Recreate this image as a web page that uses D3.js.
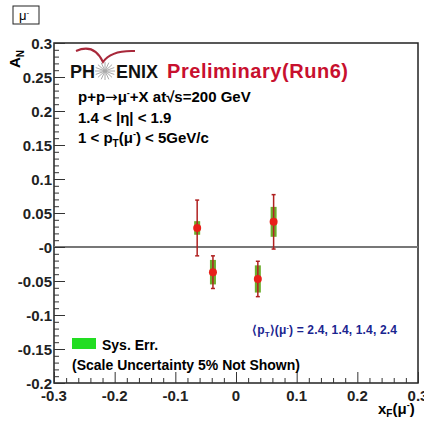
<!DOCTYPE html>
<html>
<head>
<meta charset="utf-8">
<script src="https://cdn.jsdelivr.net/npm/d3@7"></script>
<style>
  body { margin: 0; background: #fff; }
  text { font-family: 'Liberation Sans', Arial, sans-serif; font-weight: bold; }
</style>
</head>
<body>
<svg width="424" height="427"></svg>
<script>
const width = 424, height = 427;

// data
const xF      = [-0.064, -0.038, 0.036, 0.062];
const AN      = [0.028, -0.037, -0.047, 0.037];
const statErr = [0.041, 0.024, 0.026, 0.040];
const sysErr  = [0.010, 0.018, 0.020, 0.022];
const meanPt  = [2.4, 1.4, 1.4, 2.4];

const yTicks = [0.3, 0.25, 0.2, 0.15, 0.1, 0.05, 0, -0.05, -0.1, -0.15, -0.2];
const yTickLabels = ['0.3', '0.25', '0.2', '0.15', '0.1', '0.05', '-0', '-0.05', '-0.1', '-0.15', '-0.2'];
const xTicks = [-0.3, -0.2, -0.1, 0, 0.1, 0.2, 0.3];
const xTickLabels = ['-0.3', '-0.2', '-0.1', '0', '0.1', '0.2', '0.3'];

const svg = d3.select('svg');

const x = d3.scaleLinear().domain([-0.3, 0.3]).range([54, 418]);
const y = d3.scaleLinear().domain([-0.2, 0.3]).range([383, 43]);

// frame
svg.append('rect')
    .attr('x', x(-0.3)).attr('y', y(0.3))
    .attr('width', x(0.3) - x(-0.3)).attr('height', y(-0.2) - y(0.3))
    .attr('fill', 'none').attr('stroke', '#222').attr('stroke-width', 1.5);

// zero line
svg.append('line')
    .attr('x1', x(-0.3)).attr('x2', x(0.3))
    .attr('y1', y(0)).attr('y2', y(0))
    .attr('stroke', '#777').attr('stroke-width', 2);

// y axis ticks (inward)
const yAxis = d3.axisRight(y).tickValues(d3.range(-0.2, 0.3001, 0.01)).tickFormat('').tickSizeOuter(0);
const gy = svg.append('g').attr('transform', `translate(${x(-0.3)},0)`).call(yAxis);
gy.select('.domain').remove();
gy.selectAll('.tick line').attr('stroke', '#333')
    .attr('x2', d => Math.abs(Math.round(d * 100) % 5) === 0 ? 11 : 5);

svg.selectAll('.ylab')
    .data(yTicks)
    .enter()
    .append('text')
    .attr('x', 52)
    .attr('y', d => y(d) + 5.5)
    .attr('text-anchor', 'end')
    .style('font-size', '15px')
    .attr('fill', '#222')
    .text((d, i) => yTickLabels[i]);

// x axis ticks (inward)
const xAxis = d3.axisTop(x).tickValues(d3.range(-0.3, 0.3001, 0.02)).tickFormat('').tickSizeOuter(0);
const gx = svg.append('g').attr('transform', `translate(0,${y(-0.2)})`).call(xAxis);
gx.select('.domain').remove();
gx.selectAll('.tick line').attr('stroke', '#333')
    .attr('y2', d => Math.abs(Math.round(d * 100) % 10) === 0 ? -11 : -5);

svg.selectAll('.xlab')
    .data(xTicks)
    .enter()
    .append('text')
    .attr('x', d => x(d))
    .attr('y', 401)
    .attr('text-anchor', 'middle')
    .style('font-size', '15px')
    .attr('fill', '#222')
    .text((d, i) => xTickLabels[i]);

// axis titles
svg.append('text')
    .attr('transform', 'translate(20,59) rotate(-90)')
    .attr('text-anchor', 'middle')
    .style('font-size', '15px')
    .html('A<tspan dy="4" style="font-size:10px">N</tspan>');

svg.append('text')
    .attr('x', 378).attr('y', 414)
    .style('font-size', '15px')
    .html('x<tspan dy="3" style="font-size:10px">F</tspan><tspan dy="-3">(μ</tspan><tspan dy="-6" style="font-size:9px">-</tspan><tspan dy="6">)</tspan>');

// mu- box
svg.append('rect')
    .attr('x', 13).attr('y', 6).attr('width', 26).attr('height', 18)
    .attr('fill', '#fff').attr('stroke', '#222').attr('stroke-width', 1);
svg.append('text')
    .attr('x', 19).attr('y', 20)
    .style('font-size', '13px').style('font-weight', 'normal')
    .html('μ<tspan dy="-5" style="font-size:8px">-</tspan>');

// PHENIX logo
svg.append('path')
    .attr('d', 'M76,51 Q94,43 103,62 Q111,50 135,51')
    .attr('fill', 'none').attr('stroke', '#a8283a').attr('stroke-width', 2);
svg.append('text')
    .attr('x', 70).attr('y', 78)
    .style('font-size', '18px')
    .attr('fill', '#111')
    .text('PH');
const star = svg.append('g').attr('transform', 'translate(105,71)');
d3.range(16).forEach(i => {
    const a = i * Math.PI / 8;
    star.append('line')
        .attr('x1', 0).attr('y1', 0)
        .attr('x2', 10 * Math.cos(a)).attr('y2', 9 * Math.sin(a))
        .attr('stroke', '#aaa').attr('stroke-width', 1);
});
svg.append('text')
    .attr('x', 116).attr('y', 78)
    .style('font-size', '18px')
    .attr('fill', '#111')
    .text('ENIX');
svg.append('text')
    .attr('x', 167).attr('y', 78)
    .style('font-size', '20px')
    .attr('textLength', 181)
    .attr('fill', '#c8102e')
    .text('Preliminary(Run6)');

// process text
svg.append('text')
    .attr('x', 78).attr('y', 102)
    .style('font-size', '15px')
    .html('p+p<tspan style="font-family:DejaVu Sans;font-weight:normal">→</tspan>μ<tspan dy="-6" style="font-size:9px">-</tspan><tspan dy="6">+X at√s=200 GeV</tspan>');
svg.append('text')
    .attr('x', 78).attr('y', 123)
    .style('font-size', '15px')
    .text('1.4 < |η| < 1.9');
svg.append('text')
    .attr('x', 78).attr('y', 143)
    .style('font-size', '15px')
    .html('1 < p<tspan dy="4" style="font-size:10px">T</tspan><tspan dy="-4">(μ</tspan><tspan dy="-6" style="font-size:9px">-</tspan><tspan dy="6">) < 5GeV/c</tspan>');

// data points
const pts = svg.selectAll('.pt')
    .data(xF.map((d, i) => ({ x: d, y: AN[i], stat: statErr[i], sys: sysErr[i] })))
    .enter()
    .append('g');

pts.append('rect') // sys band
    .attr('x', d => x(d.x) - 3)
    .attr('width', 6)
    .attr('y', d => y(d.y + d.sys))
    .attr('height', d => y(d.y - d.sys) - y(d.y + d.sys))
    .attr('fill', '#6cae2c');

pts.append('line') // stat err
    .attr('x1', d => x(d.x)).attr('x2', d => x(d.x))
    .attr('y1', d => y(d.y + d.stat)).attr('y2', d => y(d.y - d.stat))
    .attr('stroke', '#b02020').attr('stroke-width', 1.5);

pts.each(function (d) {
    [d.y + d.stat, d.y - d.stat].forEach(v => {
        d3.select(this).append('line')
            .attr('x1', x(d.x) - 2).attr('x2', x(d.x) + 2)
            .attr('y1', y(v)).attr('y2', y(v))
            .attr('stroke', '#b02020').attr('stroke-width', 1.5);
    });
});

pts.append('circle')
    .attr('cx', d => x(d.x)).attr('cy', d => y(d.y))
    .attr('r', 4)
    .attr('fill', '#e8201a');

// mean pT note
svg.append('text')
    .attr('x', 252).attr('y', 334)
    .style('font-size', '12px')
    .attr('textLength', 145)
    .attr('fill', '#1a2590')
    .html('⟨p<tspan dy="3" style="font-size:8px">T</tspan><tspan dy="-3">⟩(μ</tspan><tspan dy="-4" style="font-size:7px">-</tspan><tspan dy="4">) = ' + meanPt.join(', ') + '</tspan>');

// legend
svg.append('rect')
    .attr('x', 72).attr('y', 338).attr('width', 24).attr('height', 11)
    .attr('fill', '#22dd22');
svg.append('text')
    .attr('x', 102).attr('y', 350)
    .style('font-size', '14px')
    .text('Sys. Err.');
svg.append('text')
    .attr('x', 72).attr('y', 370)
    .style('font-size', '14px')
    .text('(Scale Uncertainty 5% Not Shown)');
</script>
</body>
</html>
